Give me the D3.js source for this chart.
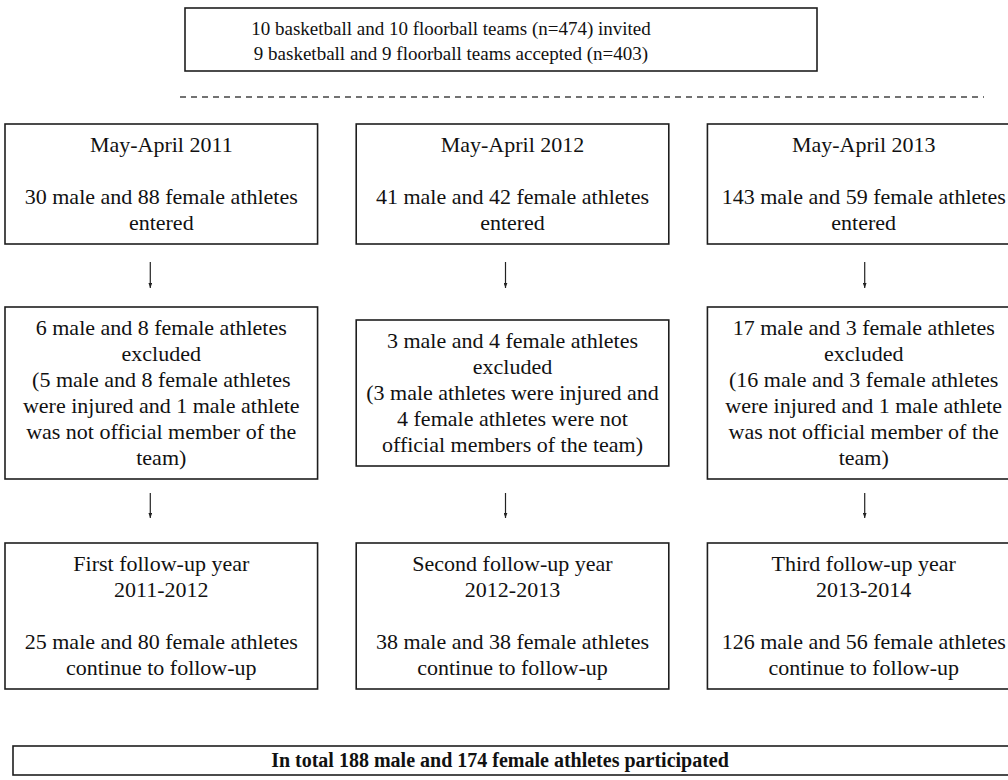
<!DOCTYPE html>
<html>
<head>
<meta charset="utf-8">
<script src="https://cdn.jsdelivr.net/npm/d3@7"></script>
<style>
  body { margin: 0; background: #fff; }
  svg text { font-family: "Liberation Serif", "Times New Roman", serif; fill: #111; }
</style>
</head>
<body>
<div class="chart"></div>
<script>
// data
const invited = { basketball: 10, floorball: 10, n: 474 };
const accepted = { basketball: 9, floorball: 9, n: 403 };
const seasons = ["May-April 2011", "May-April 2012", "May-April 2013"];
const enteredMale = [30, 41, 143];
const enteredFemale = [88, 42, 59];
const excludedMale = [6, 3, 17];
const excludedFemale = [8, 4, 3];
const exclusionNotes = [
    ["(5 male and 8 female athletes", "were injured and 1 male athlete", "was not official member of the", "team)"],
    ["(3 male athletes were injured and", "4 female athletes were not", "official members of the team)"],
    ["(16 male and 3 female athletes", "were injured and 1 male athlete", "was not official member of the", "team)"]
];
const followUpNames = ["First follow-up year", "Second follow-up year", "Third follow-up year"];
const followUpPeriods = ["2011-2012", "2012-2013", "2013-2014"];
const continuedMale = [25, 38, 126];
const continuedFemale = [80, 38, 56];
const totalMale = 188, totalFemale = 174;

const width = 1008, height = 780;
const lineH = 26;

const svg = d3.select(".chart").append("svg")
    .attr("width", width)
    .attr("height", height);

svg.append("defs").append("marker")
    .attr("id", "tip")
    .attr("viewBox", "0 0 6 8")
    .attr("refX", 3).attr("refY", 8)
    .attr("markerWidth", 4).attr("markerHeight", 5)
    .attr("markerUnits", "userSpaceOnUse")
    .attr("orient", "0")
    .append("path")
    .attr("d", "M0,0 L6,0 L3,8 Z")
    .attr("fill", "#222");

// columns
const x = d3.scaleBand()
    .domain(d3.range(3))
    .range([5, 1020])
    .paddingInner(0.11);

// rows (vertical centre of each box row)
const rowY = d3.scaleOrdinal()
    .domain(["entered", "excluded", "follow"])
    .range([184, 393, 616]);

function box(cx, cy, w, lines, opts = {}) {
    const size = opts.size || 22;
    const lh = opts.lh || lineH;
    const h = opts.h || lines.length * lh + 16;
    const g = svg.append("g");
    g.append("rect")
        .attr("x", cx - w / 2)
        .attr("y", cy - h / 2)
        .attr("width", w)
        .attr("height", h)
        .attr("fill", "none")
        .attr("stroke", "#1e1e1e")
        .attr("stroke-width", 1.6);
    const tx = opts.tx !== undefined ? opts.tx : cx;
    const ty = opts.ty !== undefined ? opts.ty : cy;
    g.selectAll("text.l")
        .data(lines)
        .enter()
        .append("text")
        .attr("class", "l")
        .attr("x", tx)
        .attr("y", (d, i) => ty + (i - (lines.length - 1) / 2) * lh + size * 0.33)
        .attr("text-anchor", "middle")
        .attr("font-size", size)
        .attr("font-weight", opts.bold ? "bold" : "normal")
        .text(d => d);
}

// top box
box(501, 39.5, 632, [
    `${invited.basketball} basketball and ${invited.floorball} floorball teams (n=${invited.n}) invited`,
    `${accepted.basketball} basketball and ${accepted.floorball} floorball teams accepted (n=${accepted.n})`
], { size: 19, lh: 25, h: 63, tx: 451, ty: 41.5 });

// dashed separator
svg.append("line")
    .attr("x1", 180).attr("x2", 984)
    .attr("y1", 97).attr("y2", 97)
    .attr("stroke", "#444")
    .attr("stroke-width", 1.5)
    .attr("stroke-dasharray", "6,5");

const arrowNudge = [-11, -7, 1];

d3.range(3).forEach(i => {
    const cx = x(i) + x.bandwidth() / 2;
    const w = x.bandwidth();

    box(cx, rowY("entered"), w, [
        seasons[i], "",
        `${enteredMale[i]} male and ${enteredFemale[i]} female athletes`,
        "entered"
    ]);

    box(cx, rowY("excluded"), w, [
        `${excludedMale[i]} male and ${excludedFemale[i]} female athletes`,
        "excluded"
    ].concat(exclusionNotes[i]));

    box(cx, rowY("follow"), w, [
        followUpNames[i], followUpPeriods[i], "",
        `${continuedMale[i]} male and ${continuedFemale[i]} female athletes`,
        "continue to follow-up"
    ]);

    // arrows
    [[262, 292], [493, 522]].forEach(([y1, y2]) => {
        svg.append("line")
            .attr("x1", cx + arrowNudge[i]).attr("x2", cx + arrowNudge[i])
            .attr("y1", y1).attr("y2", y2 - 4)
            .attr("stroke", "#222")
            .attr("stroke-width", 1.2)
            .attr("marker-end", "url(#tip)");
    });
});

// total box
box(521, 760.5, 1016, [
    `In total ${totalMale} male and ${totalFemale} female athletes participated`
], { size: 20, h: 29, bold: true, tx: 500 });
</script>
</body>
</html>
